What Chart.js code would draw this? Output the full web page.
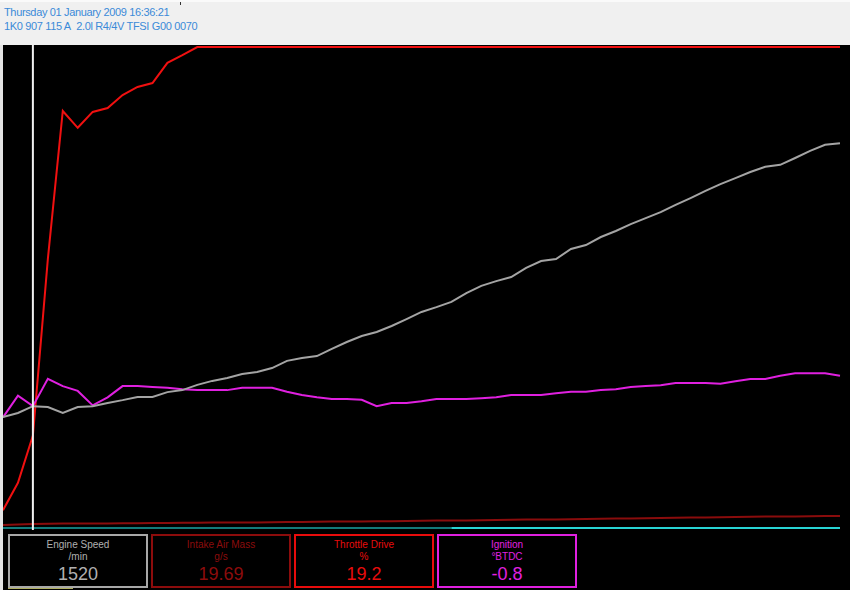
<!DOCTYPE html>
<html>
<head>
<meta charset="utf-8">
<script src="https://cdn.jsdelivr.net/npm/chart.js@4/dist/chart.umd.min.js"></script>
<style>
  html, body { margin: 0; padding: 0; }
  body { width: 850px; height: 590px; background: #e4e4e4; position: relative; overflow: hidden; font-family: "Liberation Sans", sans-serif; }
  #header { position: absolute; left: 0; top: 0; width: 850px; height: 45px; background: #f0f0f0; border-top: 2px solid #fafafa; box-sizing: border-box; }
  #header .tick { position: absolute; left: 180px; top: 0; width: 1px; height: 3px; background: #333; }
  #header .line { position: absolute; left: 4px; font-size: 11px; letter-spacing: -0.35px; color: #3b8ad8; white-space: nowrap; }
  #plot { position: absolute; left: 3px; top: 45px; width: 847px; height: 485px; background: #000; }
  #panel { position: absolute; left: 3px; top: 530px; width: 847px; height: 60px; background: #000; }
  .box { position: absolute; top: 4px; width: 136px; height: 50px; border: 2px solid; text-align: center; box-sizing: content-box; }
  .box .lbl { font-size: 10px; line-height: 12px; margin-top: 3px; }
  .box .unit { font-size: 10px; line-height: 12px; }
  .box .val { font-size: 18px; line-height: 22px; }
  #nextbox { position: absolute; left: 5px; top: 58px; width: 65px; height: 1px; background: #b0b060; }
</style>
</head>
<body>
<div id="header">
  <div class="tick"></div>
  <div class="line" style="top:4px">Thursday 01 January 2009 16:36:21</div>
  <div class="line" style="top:18px">1K0 907 115 A&nbsp;&nbsp;2.0l R4/4V TFSI G00 0070</div>
</div>
<div id="plot"><canvas id="log"></canvas></div>
<div id="panel"><div id="nextbox"></div></div>
<script>
// logged channels, one sample per column
const engineSpeed = [1385, 1435, 1520, 1510, 1435, 1510, 1520, 1560, 1595, 1635, 1635, 1695, 1720, 1785, 1835,
  1870, 1920, 1945, 1995, 2085, 2120, 2145, 2235, 2320, 2395, 2445, 2520, 2605, 2695, 2755, 2820, 2930, 3020,
  3080, 3130, 3245, 3330, 3355, 3480, 3530, 3630, 3705, 3790, 3865, 3940, 4030, 4115, 4205, 4290, 4365, 4440,
  4505, 4530, 4615, 4705, 4780, 4800];
const intakeAirMass = [15, 17, 19.69, 21, 22, 22, 23, 23, 24, 24, 25, 25, 26, 26, 27, 27, 28, 28, 29, 30, 30, 31,
  32, 32, 33, 34, 34, 35, 36, 37, 37, 38, 39, 40, 41, 42, 42, 43, 44, 45, 46, 47, 48, 49, 50, 51, 52, 53, 54, 55,
  56, 57, 58, 58, 59, 60, 60];
const throttleDrive = [3.7, 9.4, 19.2, 55.9, 86.7, 83.2, 86.5, 87.3, 90.0, 91.7, 92.5, 96.7, 98.3, 100, 100, 100,
  100, 100, 100, 100, 100, 100, 100, 100, 100, 100, 100, 100, 100, 100, 100, 100, 100, 100, 100, 100, 100, 100,
  100, 100, 100, 100, 100, 100, 100, 100, 100, 100, 100, 100, 100, 100, 100, 100, 100, 100, 100];
const ignition = [-2.2, 0.5, -0.8, 2.6, 1.7, 1.1, -0.7, 0.3, 1.7, 1.7, 1.6, 1.5, 1.3, 1.2, 1.2, 1.2, 1.5, 1.5,
  1.5, 1.0, 0.6, 0.3, 0.1, 0.1, 0.0, -0.8, -0.4, -0.4, -0.2, 0.1, 0.1, 0.1, 0.2, 0.3, 0.6, 0.6, 0.6, 0.8, 1.0,
  1.0, 1.2, 1.3, 1.6, 1.7, 1.8, 2.1, 2.1, 2.1, 2.0, 2.3, 2.6, 2.6, 3.0, 3.3, 3.3, 3.3, 3.0];
const channel5 = [0, 0, 0, 0, 0, 0, 0, 0, 0, 0, 0, 0, 0, 0, 0, 0, 0, 0, 0, 0, 0, 0, 0, 0, 0, 0, 0, 0, 0, 0, 0,
  0, 0, 0, 0, 0, 0, 0, 0, 0, 0, 0, 0, 0, 0, 0, 0, 0, 0, 0, 0, 0, 0, 0, 0, 0, 0];
const samples = engineSpeed.map((v, i) => i);
const cursorIndex = 2;
const channel5Start = 30;

const boxes = [
  { title: 'Engine Speed', unit: '/min', data: engineSpeed, digits: 0, color: '#a8a8a8', text: '#b0b0b0' },
  { title: 'Intake Air Mass', unit: 'g/s', data: intakeAirMass, digits: 2, color: '#8c0c0c', text: '#8c0c0c' },
  { title: 'Throttle Drive', unit: '%', data: throttleDrive, digits: 1, color: '#e80c0c', text: '#e80c0c' },
  { title: 'Ignition', unit: '\u00B0BTDC', data: ignition, digits: 1, color: '#e020e0', text: '#e020e0' }
];

// measuring value boxes under the graph
const panel = document.getElementById('panel');
boxes.forEach((b, k) => {
  const d = document.createElement('div');
  d.className = 'box';
  d.style.left = (5 + k * 143) + 'px';
  d.style.borderColor = b.color;
  d.style.color = b.text;
  d.innerHTML = '<div class="lbl">' + b.title + '</div><div class="unit">' + b.unit +
    '</div><div class="val">' + b.data[cursorIndex].toFixed(b.digits) + '</div>';
  panel.appendChild(d);
});

// white cursor line
const cursorPlugin = {
  id: 'cursor',
  afterDatasetsDraw(chart) {
    const x = chart.scales.x.getPixelForValue(cursorIndex);
    const c = chart.ctx;
    c.save();
    c.strokeStyle = '#f0f0f0';
    c.lineWidth = 2;
    c.beginPath();
    c.moveTo(x, 0);
    c.lineTo(x, chart.height);
    c.stroke();
    c.restore();
  }
};

function line(data, color, axis, width) {
  return { data: data, borderColor: color, borderWidth: width, yAxisID: axis, pointRadius: 0, tension: 0, clip: false };
}

const cyan = line(channel5, '#28d4d4', 'yC5', 2);
cyan.segment = { borderColor: c => c.p0DataIndex < channel5Start ? '#137a7a' : '#28d4d4' };

new Chart(document.getElementById('log'), {
  type: 'line',
  data: {
    labels: samples,
    datasets: [
      cyan,
      line(intakeAirMass, '#8a0c0c', 'yMaf', 2),
      line(engineSpeed, '#a4a4a4', 'yRpm', 2),
      line(ignition, '#e020e0', 'yIgn', 2),
      line(throttleDrive, '#f01010', 'yThr', 2)
    ]
  },
  options: {
    responsive: true,
    maintainAspectRatio: false,
    animation: false,
    layout: { padding: { left: 0, right: 10, top: 2, bottom: 2 } },
    plugins: { legend: { display: false }, tooltip: { enabled: false } },
    scales: {
      x: { type: 'category', offset: false, display: false },
      yRpm: { display: false, min: 0, max: 6000 },
      yThr: { display: false, min: 0, max: 100 },
      yIgn: { display: false, min: -16, max: 44 },
      yMaf: { display: false, min: 0, max: 2400 },
      yC5: { display: false, min: 0, max: 100 }
    }
  },
  plugins: [cursorPlugin]
});
</script>
</body>
</html>
